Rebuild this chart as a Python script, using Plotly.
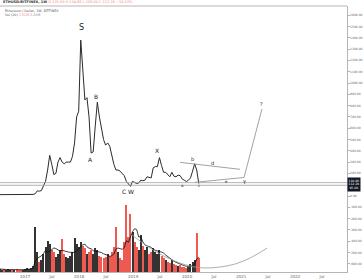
import pandas as pd
import plotly.graph_objects as go

# ---------------- data ----------------
dates = pd.date_range("2016-07-15", periods=97, freq="14D")

close = [12, 12, 11, 11, 12, 13, 12, 12, 11, 10, 8, 8,
         8, 10, 10, 11, 14,
         20, 45, 43, 48, 90, 130, 230, 360, 280, 190, 200, 300, 340, 300, 285, 300, 300, 300, 350, 470, 700, 750,
         1380, 1100, 850, 870, 700, 380, 390, 620, 830, 700, 580, 500, 450, 470, 440, 350, 280, 230, 230, 220, 200,
         180, 130, 110, 85,
         130, 120, 110, 115, 140, 135, 140, 170, 165, 160, 250, 260, 260, 340, 270, 210, 210, 190, 170, 210, 175,
         170, 185, 180, 150, 140, 128,
         140, 160, 220, 285, 230, 110]

volume = [3, 2, 3, 2, 3, 2, 2, 2, 3, 2, 2, 2,
          3, 4, 3, 4, 6,
          45, 20, 10, 12, 18, 25, 31, 28, 22, 20, 15, 18, 22, 33, 18, 15, 14, 16, 20, 34, 28, 25,
          30, 26, 24, 18, 20, 22, 18, 24, 22, 16, 15, 14, 15, 18, 16, 20, 25, 45, 20, 14, 12, 30, 67, 35, 58,
          40, 30, 25, 22, 37, 26, 22, 25, 18, 20, 24, 20, 18, 22, 16, 14, 12, 10, 9, 12, 8, 7, 6, 7, 5, 5, 4,
          5, 8, 10, 12, 39, 14]

# horizontal support lines (price)
support_levels = [118, 95]

# triangle / projection drawings (date, price)
upper_line_dates = ["2019-11-14", "2020-12-24"]
upper_line_prices = [298, 236]
lower_line_dates = ["2020-02-23", "2021-01-20"]
lower_line_prices = [121, 164]
proj_dates = ["2021-01-20", "2021-05-21"]
proj_prices = [164, 770]

# volume arc drawing (date, relative volume)
arc_dates = ["2018-12-25", "2019-04-25", "2019-09-07", "2020-01-20", "2020-05-01",
             "2020-08-11", "2020-11-21", "2021-03-02", "2021-06-25"]
arc_vals = [37, 24, 13, 6, 4, 5, 8, 14, 24]

# wave labels
wave_text = ["S", "A", "B", "C", "W", "X", "a", "b", "c", "d", "e", "Y", "?"]
wave_dates = ["2018-01-14", "2018-03-22", "2018-04-25", "2018-10-31", "2018-12-18", "2019-06-12",
              "2019-12-04", "2020-02-09", "2020-03-21", "2020-06-23", "2020-09-26", "2021-01-26", "2021-05-21"]
wave_prices = [1487, 327, 885, 44, 44, 407, 97, 327, 97, 292, 124, 124, 814]
wave_sizes = [8, 6, 6, 6, 6, 6, 4, 5, 4, 5, 4, 5, 5]

tick_dates = ["2017-01-01", "2017-07-01", "2018-01-01", "2018-07-01", "2019-01-01", "2019-07-01",
              "2020-01-01", "2020-07-01", "2021-01-01", "2021-07-01", "2022-01-01", "2022-07-01"]
tick_text = ["2017", "Jul", "2018", "Jul", "2019", "Jul", "2020", "Jul", "2021", "Jul", "2022", "Jul"]
price_ticks = [v for v in range(-600, 1700, 100) if v != 100]

# ---------------- figure ----------------
vol_colors = ["#333333"] + ["#333333" if close[i] >= close[i - 1] else "#ee5a52" for i in range(1, len(close))]
vol_ma = pd.Series(volume).rolling(6, min_periods=1).mean()

fig = go.Figure()

fig.add_trace(go.Scatter(x=dates, y=close, mode="lines",
                         line=dict(color="#2b2b2b", width=1), hoverinfo="skip"))
fig.add_trace(go.Scatter(x=upper_line_dates, y=upper_line_prices, mode="lines",
                         line=dict(color="#8a8a8a", width=0.8)))
fig.add_trace(go.Scatter(x=lower_line_dates, y=lower_line_prices, mode="lines",
                         line=dict(color="#8a8a8a", width=0.8)))
fig.add_trace(go.Scatter(x=proj_dates, y=proj_prices, mode="lines",
                         line=dict(color="#8a8a8a", width=0.8)))

fig.add_trace(go.Bar(x=dates, y=volume, marker=dict(color=vol_colors, line=dict(width=0)),
                     width=7 * 86400000, yaxis="y2"))
fig.add_trace(go.Scatter(x=dates, y=vol_ma, mode="lines", line=dict(color="#111111", width=0.8),
                         yaxis="y2"))
fig.add_trace(go.Scatter(x=arc_dates, y=arc_vals, mode="lines", line=dict(color="#999999", width=0.8,
                         shape="spline"), yaxis="y2"))

for lvl in support_levels:
    fig.add_shape(type="line", xref="paper", x0=0, x1=1, yref="y", y0=lvl, y1=lvl,
                  line=dict(color="#a0a0a0", width=0.8))
# top border of pane
fig.add_shape(type="line", xref="paper", x0=0, x1=1, yref="paper", y0=1, y1=1,
              line=dict(color="#b5b5b5", width=1))

for t, d, p, s in zip(wave_text, wave_dates, wave_prices, wave_sizes):
    fig.add_annotation(x=d, y=p, text=t, showarrow=False,
                       font=dict(family="DejaVu Sans", size=s, color="#222222"))

# header text
fig.add_annotation(xref="paper", yref="paper", x=0.003, y=1.016, xanchor="left", yanchor="middle",
                   text="<b>ETHUSD/BITFINEX, 1W</b> <span style='color:#ef8a8a'>O 125.50 H 134.88 L 108.00 C 112.29 −10.53%</span>",
                   showarrow=False, font=dict(family="DejaVu Sans", size=3.5, color="#333"))
fig.add_annotation(xref="paper", yref="paper", x=0.008, y=0.981, xanchor="left", yanchor="middle",
                   text="Ethereum / Dollar, 1W, BITFINEX", showarrow=False,
                   font=dict(family="DejaVu Sans", size=3.3, color="#555"))
fig.add_annotation(xref="paper", yref="paper", x=0.008, y=0.968, xanchor="left", yanchor="middle",
                   text="Vol (20) <span style='color:#ef8a8a'>3.51M</span> <span style='color:#888'>2.26M</span>",
                   showarrow=False, font=dict(family="DejaVu Sans", size=3.3, color="#555"))

# highlighted price labels on axis
fig.add_annotation(xref="paper", yref="y", x=1.0, y=100, xanchor="left", yanchor="middle",
                   text="118.00<br>112.29<br>95.00", showarrow=False, bgcolor="#131722",
                   font=dict(family="DejaVu Sans", size=3, color="#ffffff"), borderpad=0.5)

fig.update_layout(
    width=363, height=280,
    margin=dict(l=0, r=16, t=6, b=8),
    paper_bgcolor="white", plot_bgcolor="white",
    showlegend=False,
    xaxis=dict(type="date", range=["2016-07-15", "2022-12-17"], tickvals=tick_dates, ticktext=tick_text,
               tickfont=dict(family="DejaVu Sans", size=4, color="#666"), showgrid=False, zeroline=False,
               showline=True, linecolor="#b5b5b5", linewidth=1, ticks="", automargin=False),
    yaxis=dict(side="right", range=[-672.6, 1681.5], tickvals=price_ticks,
               ticktext=[f"{v:.2f}" for v in price_ticks],
               tickfont=dict(family="DejaVu Sans", size=3, color="#666"), showgrid=False, zeroline=False,
               showline=True, linecolor="#b5b5b5", linewidth=1, ticks="outside", ticklen=1.5,
               tickcolor="#b5b5b5", automargin=False),
    yaxis2=dict(overlaying="y", range=[0, 266], visible=False),
)

fig.write_html("out.html")
